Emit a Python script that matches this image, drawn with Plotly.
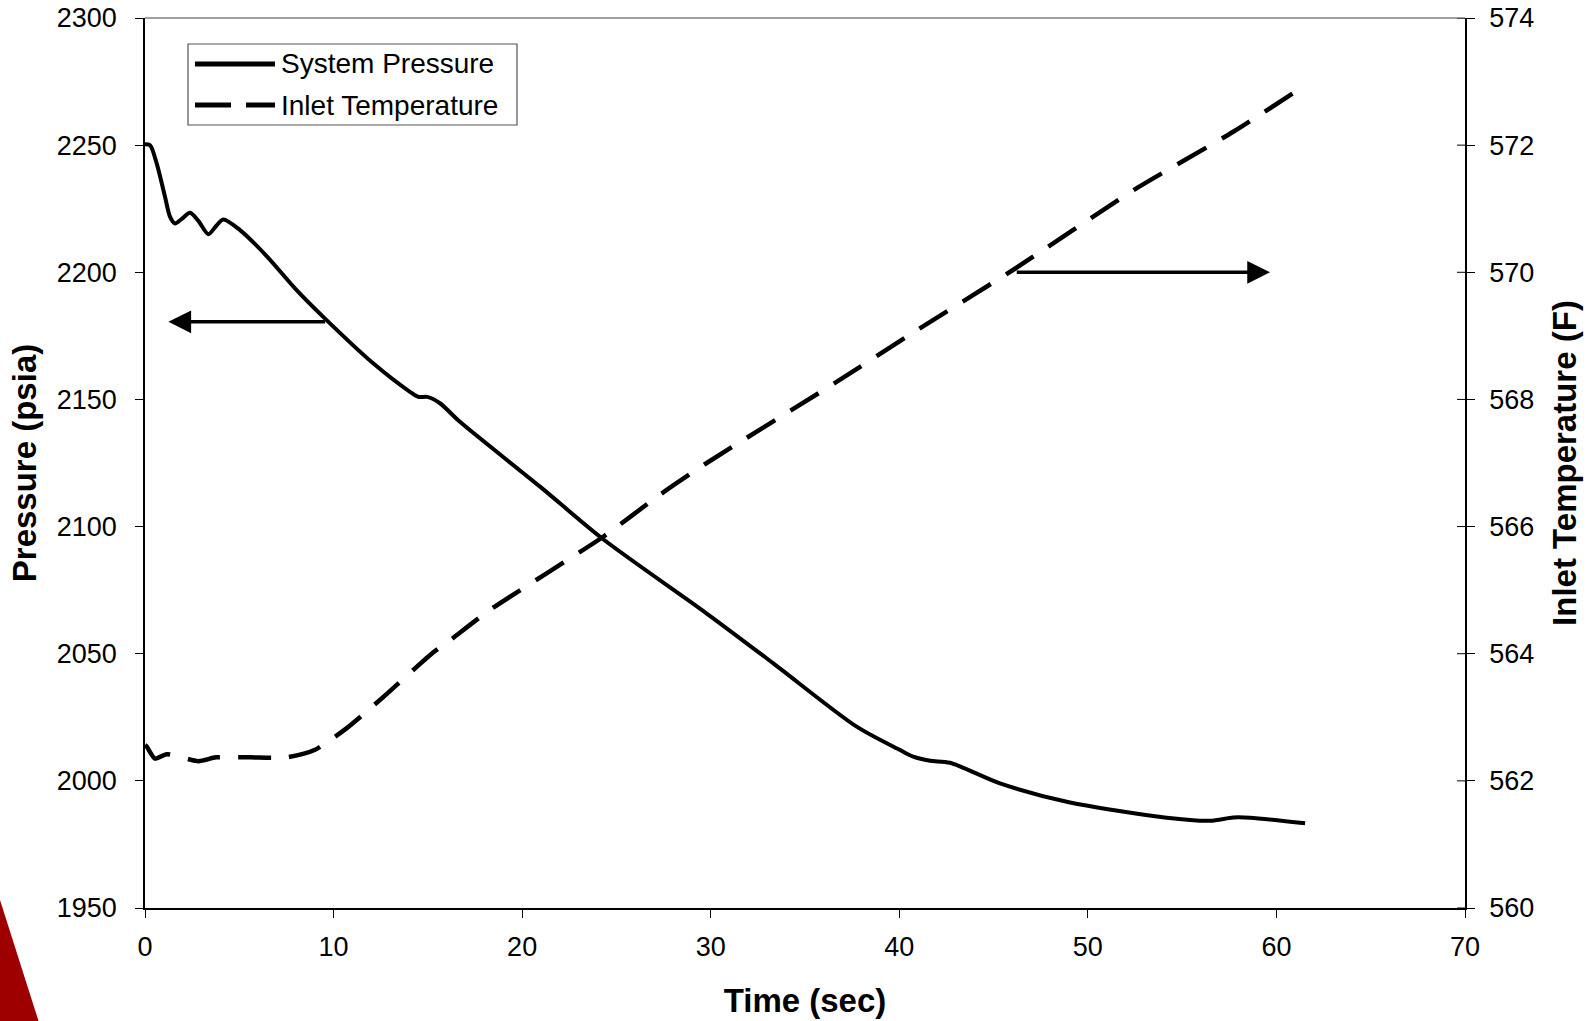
import plotly.graph_objects as go

# ---- data ----
time_pressure = [0, 0.27, 0.62, 1.06, 1.33, 1.59, 1.95, 2.39, 2.85, 3.36, 3.75, 4.15, 5.04,
                 6.45, 8.04, 9.63, 12.1, 14.05, 14.5, 14.97, 15.64, 16.7, 20.95, 24.3, 29.79,
                 33.32, 37.74, 40.04, 40.74, 41.63, 42.69, 45.34, 48.88, 54.18, 56.48, 57.71,
                 58.6, 61.52]
system_pressure = [2250.4, 2250, 2242.8, 2229.7, 2221.8, 2219.2, 2221, 2223.4, 2220, 2215, 2218,
                   2220.8, 2216.6, 2206.4, 2193, 2181.2, 2164.2, 2153, 2151, 2151, 2148.5, 2141.2,
                   2115.7, 2095, 2065.8, 2046.2, 2021.3, 2012.1, 2009.5, 2007.9, 2007.1, 1999,
                   1991.8, 1985.5, 1984.3, 1985.6, 1985.5, 1983.3]

time_temperature = [0, 0.09, 0.53, 1.15, 2.83, 3.77, 5.57, 7.51, 9.02, 10.7, 12.64, 15.2, 16.08,
                    18.3, 24.3, 27.3, 29.79, 36.86, 40.83, 46.05, 52.41, 57.71, 61.42]
inlet_temperature = [562.56, 562.54, 562.35, 562.42, 562.31, 562.37, 562.37, 562.37, 562.49,
                     562.83, 563.32, 564.0, 564.19, 564.69, 565.84, 566.5, 567.0, 568.31, 569.07,
                     570.04, 571.29, 572.21, 572.92]

x_ticks = [0, 10, 20, 30, 40, 50, 60, 70]
pressure_ticks = [1950, 2000, 2050, 2100, 2150, 2200, 2250, 2300]
temperature_ticks = [560, 562, 564, 566, 568, 570, 572, 574]

series_names = ["System Pressure", "Inlet Temperature"]

# arrows (tip, tail) in data units
left_arrow = dict(tip_t=1.24, tail_t=9.63, value=2180.5)
right_arrow = dict(tip_t=59.66, tail_t=46.15, value=570.0)

FONT = "Liberation Sans, Arial, sans-serif"

fig = go.Figure()
fig.add_trace(go.Scatter(
    x=time_pressure, y=system_pressure, mode="lines", name=series_names[0],
    line=dict(color="black", width=4, shape="spline", smoothing=0.8),
    showlegend=False, yaxis="y"))
fig.add_trace(go.Scatter(
    x=time_temperature, y=inlet_temperature, mode="lines", name=series_names[1],
    line=dict(color="black", width=4.5, dash="33px,18px", shape="spline", smoothing=0.6),
    showlegend=False, yaxis="y2"))

tick_font = dict(family=FONT, size=27, color="black")
title_font = dict(family=FONT, size=33, color="black")

fig.update_layout(
    width=1595, height=1021,
    margin=dict(l=145, r=130, t=18, b=113, autoexpand=False),
    paper_bgcolor="white", plot_bgcolor="white",
    font=dict(family=FONT, color="black"),
    xaxis=dict(range=[0, 70], tickvals=x_ticks, ticks="outside", ticklen=8, tickwidth=1,
               tickcolor="black", showline=True, linecolor="black", linewidth=1.5,
               showgrid=False, zeroline=False, tickfont=tick_font, automargin=False,
               ticklabelstandoff=6,
               title=dict(text="<b>Time (sec)</b>", font=title_font, standoff=28)),
    yaxis=dict(range=[1950, 2300], tickvals=pressure_ticks, ticks="outside", ticklen=8,
               tickwidth=1, tickcolor="black", showline=True, linecolor="black",
               linewidth=1.5, showgrid=False, zeroline=False, tickfont=tick_font,
               ticklabelstandoff=13, automargin=False,
               title=dict(text="<b>Pressure (psia)</b>", font=title_font, standoff=10)),
    yaxis2=dict(range=[560, 574], tickvals=temperature_ticks, overlaying="y", side="right",
                ticks="outside", ticklen=8, tickwidth=1, tickcolor="black", showline=True,
                linecolor="black", linewidth=1.5, showgrid=False, zeroline=False,
                tickfont=tick_font, ticklabelstandoff=9, automargin=False,
                title=dict(text="<b>Inlet Temperature (F)</b>", font=title_font, standoff=20)),
)

# plot-area top border (gray)
fig.add_shape(type="line", xref="paper", yref="paper", x0=0, x1=1, y0=1, y1=1,
              line=dict(color="#808080", width=1.5))

# arrows
fig.add_annotation(x=left_arrow["tip_t"], y=left_arrow["value"], ax=left_arrow["tail_t"],
                   ay=left_arrow["value"], xref="x", yref="y", axref="x", ayref="y",
                   showarrow=True, arrowhead=2, arrowsize=1.3, arrowwidth=3.5,
                   arrowcolor="black", text="", standoff=0, startstandoff=0)
fig.add_annotation(x=right_arrow["tip_t"], y=right_arrow["value"], ax=right_arrow["tail_t"],
                   ay=right_arrow["value"], xref="x", yref="y2", axref="x", ayref="y2",
                   showarrow=True, arrowhead=2, arrowsize=1.3, arrowwidth=3.5,
                   arrowcolor="black", text="", standoff=0, startstandoff=0)

# legend box drawn to match the reference
def px_x(px):
    return (px - 145) / 1320.0

def px_y(py):
    return (908 - py) / 890.0

fig.add_shape(type="rect", xref="paper", yref="paper",
              x0=px_x(188), x1=px_x(517), y0=px_y(125), y1=px_y(44),
              line=dict(color="#555555", width=1.2), fillcolor="white")
fig.add_shape(type="line", xref="paper", yref="paper",
              x0=px_x(195), x1=px_x(275), y0=px_y(64), y1=px_y(64),
              line=dict(color="black", width=5))
fig.add_shape(type="line", xref="paper", yref="paper",
              x0=px_x(195), x1=px_x(275), y0=px_y(105), y1=px_y(105),
              line=dict(color="black", width=5, dash="36px,15px"))
for name, py in zip(series_names, [64, 105]):
    fig.add_annotation(x=px_x(279), y=px_y(py), xref="paper", yref="paper", text=name,
                       showarrow=False, xanchor="left", yanchor="middle",
                       font=dict(family=FONT, size=28, color="black"))

# right-axis ticks also cross the axis line (inside part)
for v in temperature_ticks:
    fig.add_shape(type="line", xref="paper", yref="y2", x0=1, x1=1 - 8 / 1320.0, y0=v, y1=v,
                  line=dict(color="black", width=1))

# dark red corner decoration
fig.add_shape(type="path", xref="paper", yref="paper", layer="above",
              path=f"M {px_x(-15)},{px_y(900)} L {px_x(0)},{px_y(900)} L {px_x(43)},{px_y(1035)} L {px_x(-15)},{px_y(1035)} Z",
              fillcolor="#9E0000", line=dict(width=0))

fig.write_html("out.html")
